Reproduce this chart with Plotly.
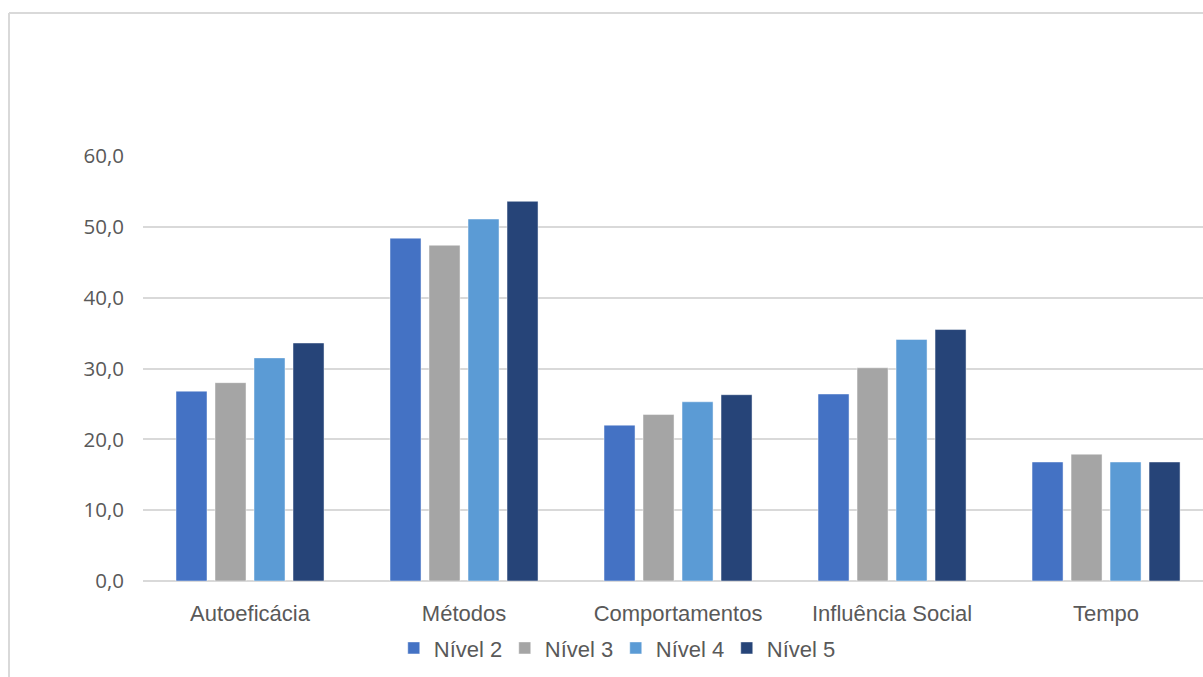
import plotly.graph_objects as go

categorias = ["Autoeficácia", "Métodos", "Comportamentos", "Influência Social", "Tempo"]
nivel_2 = [26.8, 48.4, 22.0, 26.4, 16.8]
nivel_3 = [28.0, 47.4, 23.5, 30.1, 17.9]
nivel_4 = [31.5, 51.1, 25.3, 34.1, 16.8]
nivel_5 = [33.6, 53.6, 26.3, 35.5, 16.8]
series_nomes = ["Nível 2", "Nível 3", "Nível 4", "Nível 5"]
cores = ["#4472C4", "#A5A5A5", "#5B9BD5", "#264478"]
y_ticks = [0, 10, 20, 30, 40, 50, 60]

fig = go.Figure()
for nome, valores, cor in zip(series_nomes, [nivel_2, nivel_3, nivel_4, nivel_5], cores):
    fig.add_trace(go.Bar(
        x=categorias, y=valores, name=nome,
        marker=dict(color=cor, line=dict(color="rgba(255,255,255,0.45)", width=1)),
    ))

texto = "#595959"
grade = "#D9D9D9"

fig.update_layout(
    width=1203, height=677,
    margin=dict(l=143, r=0, t=156, b=96),
    paper_bgcolor="white", plot_bgcolor="white",
    separators=",.",
    barmode="group", bargap=0.271, bargroupgap=0.205,
    font=dict(family="Liberation Sans, Arial, sans-serif", color=texto, size=22),
    showlegend=True,
    legend=dict(
        orientation="h", x=0.446, xanchor="center", y=-0.158, yanchor="middle",
        font=dict(size=22, color=texto), entrywidth=66, entrywidthmode="pixels",
        itemclick=False, bgcolor="rgba(0,0,0,0)",
    ),
    xaxis=dict(
        type="category", categoryorder="array", categoryarray=categorias,
        range=[-0.5, 4.453], showgrid=False, showline=False, ticks="",
        ticklabelstandoff=17, tickfont=dict(size=22, color=texto),
        fixedrange=True,
    ),
    yaxis=dict(
        range=[0, 60], tickvals=y_ticks, tickformat=".1f",
        showgrid=True, gridcolor=grade, gridwidth=2,
        zeroline=True, zerolinecolor=grade, zerolinewidth=2,
        showline=False, ticks="", ticklabelstandoff=18,
        tickfont=dict(family="Open Sans, Noto Sans, sans-serif", size=20.5, color=texto),
        fixedrange=True,
    ),
)

# chart-area border (top and left edges)
fig.add_shape(type="line", xref="paper", yref="paper",
              x0=-0.1264, x1=1.0, y0=1.3365, y1=1.3365,
              line=dict(color=grade, width=2))
fig.add_shape(type="line", xref="paper", yref="paper",
              x0=-0.1264, x1=-0.1264, y0=1.3365, y1=-0.23,
              line=dict(color=grade, width=2))

fig.write_html("out.html", config={"displayModeBar": False})
